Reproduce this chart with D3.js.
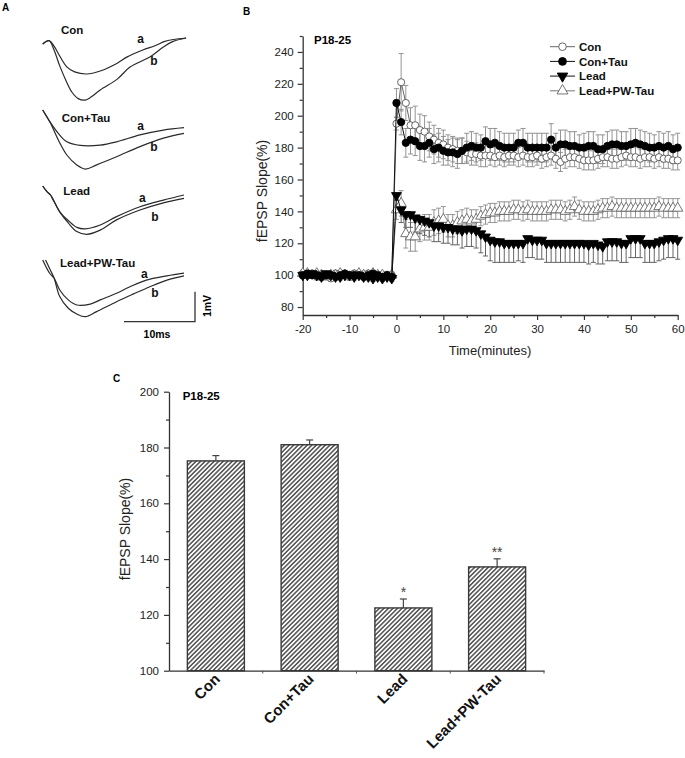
<!DOCTYPE html>
<html><head><meta charset="utf-8">
<script src="https://cdn.jsdelivr.net/npm/d3@7"></script>
<style>body{margin:0;background:#fff}svg{display:block}</style>
</head><body><svg id="c" width="685" height="758"></svg>
<script>
// ---------- DATA ----------
// Panel A: field potential traces, [time ms, amplitude mV]
const conTraceA = [[0,-0.2],[0.9,-0.09],[1.6,-0.27],[2.4,-0.6],[3.4,-0.96],[4.5,-1.13],[6.2,-1.2],[8.1,-1.1],[10.5,-0.84],[11.9,-0.63],[14.1,-0.4],[15.9,-0.25],[17.1,-0.12],[18.4,-0.05],[20.2,0]];
const conTraceB = [[0,-0.2],[0.9,-0.09],[1.6,-0.4],[2.4,-0.93],[3.3,-1.43],[4.1,-1.8],[5.0,-2.02],[6.0,-2.07],[6.8,-1.97],[8.1,-1.73],[10.5,-1.37],[12.3,-0.97],[15.2,-0.62],[17.0,-0.3],[18.3,-0.12],[20.2,0]];
const conTauTraceA = [[0,0],[1.0,-0.39],[2.2,-0.78],[3.4,-1.06],[5.3,-1.18],[8.1,-1.17],[10.4,-1.06],[13.7,-0.83],[17.0,-0.67],[19.9,-0.59]];
const conTauTraceB = [[0,0],[1.0,-0.39],[2.2,-1.0],[3.4,-1.5],[4.8,-1.83],[6.0,-1.97],[7.6,-1.83],[10.4,-1.56],[13.7,-1.22],[17.0,-0.94],[19.9,-0.78]];
const leadTraceA = [[0,0],[0.6,-0.19],[1.1,-0.3],[1.5,-0.47],[2.4,-0.86],[3.6,-1.15],[4.8,-1.38],[6.0,-1.43],[8.1,-1.3],[10.4,-1.02],[13.7,-0.69],[17.0,-0.47],[19.9,-0.3]];
const leadTraceB = [[0,0],[0.6,-0.19],[1.1,-0.3],[1.5,-0.47],[2.4,-0.86],[3.6,-1.23],[4.8,-1.52],[6.2,-1.61],[8.1,-1.47],[10.4,-1.13],[13.7,-0.8],[17.0,-0.56],[19.9,-0.41]];
const leadPwTraceA = [[0,0],[1.0,-0.45],[1.6,-0.6],[2.4,-1.0],[3.6,-1.33],[4.8,-1.5],[6.7,-1.47],[8.1,-1.33],[10.4,-1.11],[12.3,-0.89],[14.6,-0.67],[17.5,-0.53],[19.9,-0.44]];
const leadPwTraceB = [[0.4,0],[1.0,-0.3],[1.6,-0.6],[2.4,-1.22],[3.6,-1.61],[4.8,-1.8],[6.0,-1.89],[7.6,-1.72],[10.4,-1.39],[12.8,-1.13],[15.1,-0.89],[17.5,-0.67],[19.9,-0.53]];
const traceNames = ["Con","Con+Tau","Lead","Lead+PW-Tau"];

// Panel B: time course (minutes) and fEPSP slope (%)
const timeBase = [-20,-19,-18,-17,-16,-15,-14,-13,-12,-11,-10,-9,-8,-7,-6,-5,-4,-3,-2,-1];
const timePost = [0,1,2,3,4,5,6,7,8,9,10,11,12,13,14,15,16,17,18,19,20,21,22,23,24,25,26,27,28,29,30,31,32,33,34,35,36,37,38,39,40,41,42,43,44,45,46,47,48,49,50,51,52,53,54,55,56,57,58,59,60];
const xTickLabels = [-20,-10,0,10,20,30,40,50,60];
const yTickLabelsB = [80,100,120,140,160,180,200,220,240];
const seriesNames = ["Con","Con+Tau","Lead","Lead+PW-Tau"];
const conBase    = [101,100,101,99,100,100,98,101,100,100,99,101,100,100,101,100,99,100,100,100];
const conTauBase = [100,101,100,100,99,100,100,99,100,101,100,100,100,99,100,101,100,99,100,99];
const leadBase   = [100,100,101,100,99,101,100,99,99,100,100,99,100,99,99,98,99,98,99,98];
const leadPwBase = [101,101,100,101,100,99,100,100,101,100,99,100,101,100,100,101,100,100,99,100];
const conPost    = [195,221,208,194,194,191,190,187,185,183,182,180,179,178,178,177,176,176,175,175,175,174,175,174,175,175,174,175,174,174,175,173,174,175,173,171,173,174,174,173,172,172,172,173,174,174,173,173,174,175,174,174,173,174,174,173,174,173,173,172,172];
const conTauPost = [208,196,183,185,184,181,181,183,179,180,178,177,177,176,178,180,181,180,180,184,182,183,181,180,180,180,183,183,180,180,180,180,180,185,180,182,182,181,181,180,180,181,181,179,179,181,182,182,181,181,182,183,182,181,180,180,181,180,181,179,180];
const leadPost   = [150,141,138,138,136,135,134,133,131,131,130,130,129,129,128,129,129,128,126,124,122,121,121,120,120,120,120,120,123,122,122,122,120,120,120,120,120,120,120,120,120,119,120,119,118,121,121,121,120,120,123,123,123,120,120,120,121,122,123,123,122];
const leadPwPost = [141,145,126,124,124,129,130,130,133,134,135,131,131,133,134,135,134,135,137,138,139,139,140,140,140,141,141,140,141,140,140,140,140,141,141,141,140,141,143,141,140,140,140,141,142,142,143,142,142,142,142,142,142,142,142,142,143,142,142,142,142];
const errBase    = [2,2,2,2,2,2,2,2,2,2,2,2,2,2,2,2,2,2,2,2];
const conErrPost    = [4,18,11,11,12,10,10,9,9,9,9,8,8,8,8,7,7,7,7,7,6,6,6,6,6,6,6,6,6,6,6,6,6,6,6,6,6,6,6,6,6,6,6,6,6,6,6,6,6,6,6,6,6,6,6,6,6,6,6,6,6];
const conTauErrPost = [9,8,9,9,9,9,10,9,9,9,9,8,9,9,8,9,9,9,8,9,10,9,9,9,9,9,8,9,9,9,9,9,9,10,9,9,9,9,9,8,9,9,9,9,9,9,9,9,9,9,10,9,9,9,9,8,9,9,9,9,9];
const leadErrPost   = [3,8,8,8,9,9,9,9,10,10,10,10,10,10,11,11,11,11,12,12,13,13,13,12,12,12,11,12,12,11,12,12,12,12,12,12,12,12,12,12,12,12,12,12,11,12,12,12,12,12,12,12,12,12,12,12,12,12,12,12,12];
const leadPwErrPost = [6,8,9,9,9,8,8,8,8,8,8,7,7,7,7,7,7,6,6,6,6,6,6,6,6,6,6,6,6,6,6,6,6,6,6,6,6,6,6,6,6,6,6,6,6,6,6,6,6,6,6,6,6,6,6,6,6,6,6,6,6];

// Panel C: mean fEPSP slope (%) and SEM
const barCategories = ["Con","Con+Tau","Lead","Lead+PW-Tau"];
const barValues = [175.2,181.0,122.5,137.2];
const barErrors = [1.9,1.7,3.2,2.9];
const barMarks = ["","","*","**"];
const yTickLabelsC = [100,120,140,160,180,200];

// ---------- DRAWING ----------
const FONT = '"Liberation Sans", Arial, Helvetica, sans-serif';
const fmt = d => String(d);
const svg = d3.select("#c").attr("font-family", FONT);
svg.append("rect").attr("width",685).attr("height",758).attr("fill","#fff");

// ===== Panel A =====
const gA = svg.append("g");
gA.append("text").attr("x",2).attr("y",11).attr("font-size",10).attr("font-weight","bold").text("A");
const xA = d3.scaleLinear().domain([0,10]).range([42.7,113.7]);
const groupsA = [
  {name:traceNames[0], a:conTraceA, b:conTraceB, y0:38, nx:61, ny:33.5, ap:[140.7,42.5], bp:[154,65]},
  {name:traceNames[1], a:conTauTraceA, b:conTauTraceB, y0:110, nx:61.7, ny:121.5, ap:[140.7,130], bp:[154,151]},
  {name:traceNames[2], a:leadTraceA, b:leadTraceB, y0:186, nx:63.3, ny:195, ap:[142.3,201.5], bp:[155,221]},
  {name:traceNames[3], a:leadPwTraceA, b:leadPwTraceB, y0:260, nx:60, ny:267, ap:[144.3,277.5], bp:[155,297]}
];
groupsA.forEach(g => {
  const yA = d3.scaleLinear().domain([0,-1]).range([g.y0, g.y0+30]);
  const line = d3.line().x(d=>xA(d[0])).y(d=>yA(d[1])).curve(d3.curveCatmullRom.alpha(0.5));
  [g.a, g.b].forEach(tr => gA.append("path").attr("d", line(tr)).attr("fill","none").attr("stroke","#2a2a2a").attr("stroke-width",1.2));
  gA.append("text").attr("x",g.nx).attr("y",g.ny).attr("font-size",11.5).attr("font-weight","bold").attr("fill","#111").text(g.name);
  gA.append("text").attr("x",g.ap[0]).attr("y",g.ap[1]).attr("text-anchor","middle").attr("font-size",12).attr("font-weight","bold").attr("fill","#111").text("a");
  gA.append("text").attr("x",g.bp[0]).attr("y",g.bp[1]).attr("text-anchor","middle").attr("font-size",12).attr("font-weight","bold").attr("fill","#111").text("b");
});
// scale bar: 10 ms x 1 mV
const ySB = d3.scaleLinear().domain([0,1]).range([321.7,291.7]);
const xSB = d3.scaleLinear().domain([0,10]).range([124,195]);
gA.append("path").attr("d", `M${xSB(0)},${ySB(0)}H${xSB(10)}V${ySB(1)}`).attr("fill","none").attr("stroke","#333").attr("stroke-width",1.3);
gA.append("text").attr("x",157).attr("y",338).attr("text-anchor","middle").attr("font-size",10.5).attr("font-weight","bold").text("10ms");
gA.append("text").attr("transform","translate(211,306) rotate(-90)").attr("text-anchor","middle").attr("font-size",10.5).attr("font-weight","bold").text("1mV");

// ===== Panel B =====
const gB = svg.append("g");
gB.append("text").attr("x",243).attr("y",15).attr("font-size",10).attr("font-weight","bold").text("B");
const xB = d3.scaleLinear().domain([-20,60]).range([302.7,677.7]);
const yB = d3.scaleLinear().domain([75,250]).range([315,36]);

function styleAxis(g, fs){
  g.select(".domain").attr("stroke","#333").attr("stroke-width",1.3);
  g.selectAll(".tick line").attr("stroke","#333").attr("stroke-width",1.2);
  g.selectAll("text").attr("font-size",fs).attr("fill","#222").attr("font-family",FONT);
}
const bx = gB.append("g").attr("transform","translate(0,315)")
  .call(d3.axisBottom(xB).tickValues(xTickLabels).tickFormat(fmt).tickSize(5).tickSizeOuter(0).tickPadding(5));
styleAxis(bx, 11.5);
const bxm = gB.append("g").attr("transform","translate(0,315)")
  .call(d3.axisBottom(xB).tickValues([-15,-5,5,15,25,35,45,55]).tickSize(3).tickSizeOuter(0).tickFormat(""));
styleAxis(bxm, 11); bxm.select(".domain").remove();
const by = gB.append("g").attr("transform","translate(302.7,0)")
  .call(d3.axisLeft(yB).tickValues(yTickLabelsB).tickFormat(fmt).tickSize(5).tickSizeOuter(0).tickPadding(4));
styleAxis(by, 11.5);
const bym = gB.append("g").attr("transform","translate(302.7,0)")
  .call(d3.axisLeft(yB).tickValues([90,110,130,150,170,190,210,230,250]).tickSize(3).tickSizeOuter(0).tickFormat(""));
styleAxis(bym, 11); bym.select(".domain").remove();
gB.append("text").attr("x",490).attr("y",355).attr("text-anchor","middle").attr("font-size",13).attr("fill","#222").text("Time(minutes)");
gB.append("text").attr("transform","translate(267,191) rotate(-90)").attr("text-anchor","middle").attr("font-size",14).attr("fill","#222").text("fEPSP Slope(%)");
gB.append("text").attr("x",314).attr("y",44).attr("font-size",11.5).attr("font-weight","bold").text("P18-25");

const timeAll = timeBase.concat(timePost);
const seriesB = [
  {name:seriesNames[0], v:conBase.concat(conPost), e:errBase.concat(conErrPost), sym:d3.symbolCircle, size:40, fill:"#fff", stroke:"#555", line:"#666", err:"#8a8a8a", rot:0, both:true},
  {name:seriesNames[1], v:conTauBase.concat(conTauPost), e:errBase.concat(conTauErrPost), sym:d3.symbolCircle, size:42, fill:"#000", stroke:"#000", line:"#111", err:"#888", rot:0, both:true},
  {name:seriesNames[2], v:leadBase.concat(leadPost), e:errBase.concat(leadErrPost), sym:d3.symbolTriangle, size:42, fill:"#000", stroke:"#000", line:"#111", err:"#555", rot:180, both:false},
  {name:seriesNames[3], v:leadPwBase.concat(leadPwPost), e:errBase.concat(leadPwErrPost), sym:d3.symbolTriangle, size:46, fill:"#fff", stroke:"#666", line:"#777", err:"#8a8a8a", rot:0, both:true}
];
seriesB.forEach(s => { s.pts = timeAll.map((t,i)=>({t, v:s.v[i], e:s.e[i]})).filter(d=>d.v!=null); });
// error bars
const drawOrder = [0,3,1,2];
drawOrder.forEach(k => {
  const s = seriesB[k];
  const g = gB.append("g").attr("stroke", s.err).attr("stroke-width",0.9);
  s.pts.forEach(d => {
    const x = xB(d.t), yTop = s.both ? yB(d.v + d.e) : yB(d.v), yBot = yB(d.v - d.e);
    g.append("line").attr("x1",x).attr("x2",x).attr("y1",yTop).attr("y2",yBot);
    if (s.both) g.append("line").attr("x1",x-2.5).attr("x2",x+2.5).attr("y1",yTop).attr("y2",yTop);
    g.append("line").attr("x1",x-2.5).attr("x2",x+2.5).attr("y1",yBot).attr("y2",yBot);
  });
});
drawOrder.forEach(k => {
  const s = seriesB[k];
  const line = d3.line().x(d=>xB(d.t)).y(d=>yB(d.v));
  gB.append("path").attr("d", line(s.pts)).attr("fill","none").attr("stroke", s.line).attr("stroke-width",1);
  gB.append("g").selectAll("path").data(s.pts).join("path")
    .attr("d", d3.symbol().type(s.sym).size(s.size))
    .attr("transform", d => `translate(${xB(d.t)},${yB(d.v)}) rotate(${s.rot})`)
    .attr("fill", s.fill).attr("stroke", s.stroke).attr("stroke-width",0.9);
});
// legend
const lg = gB.append("g");
seriesB.forEach((s,i) => {
  const y = 46.7 + i*14.7;
  lg.append("line").attr("x1",550).attr("x2",575).attr("y1",y).attr("y2",y).attr("stroke", s.line).attr("stroke-width",1);
  lg.append("path").attr("d", d3.symbol().type(s.sym).size(s.size+6)).attr("transform",`translate(562.5,${y}) rotate(${s.rot})`)
    .attr("fill", s.fill).attr("stroke", s.stroke).attr("stroke-width",0.9);
  lg.append("text").attr("x",579).attr("y",y+4.2).attr("font-size",11.5).attr("font-weight","bold").attr("fill","#111").text(s.name);
});

// ===== Panel C =====
const gC = svg.append("g");
gC.append("text").attr("x",113).attr("y",382).attr("font-size",10).attr("font-weight","bold").text("C");
const defs = svg.append("defs");
const pat = defs.append("pattern").attr("id","hatch").attr("patternUnits","userSpaceOnUse")
  .attr("width",3.2).attr("height",3.2).attr("patternTransform","rotate(45)");
pat.append("rect").attr("width",3.2).attr("height",3.2).attr("fill","#fff");
pat.append("line").attr("x1",0.8).attr("x2",0.8).attr("y1",0).attr("y2",3.2).attr("stroke","#2b2b2b").attr("stroke-width",1.25);

const xC = d3.scaleBand().domain(barCategories).range([169,544]).paddingInner(0.392).paddingOuter(0.196);
const yC = d3.scaleLinear().domain([100,200]).range([670.7,391.7]);
gC.selectAll("rect.bar").data(barCategories).join("rect").attr("class","bar")
  .attr("x", d=>xC(d)).attr("width", xC.bandwidth())
  .attr("y", (d,i)=>yC(barValues[i])).attr("height", (d,i)=>yC(100)-yC(barValues[i]))
  .attr("fill","url(#hatch)").attr("stroke","#3a3a3a").attr("stroke-width",1.4);
barCategories.forEach((c,i) => {
  const cx = xC(c) + xC.bandwidth()/2, yt = yC(barValues[i]+barErrors[i]);
  gC.append("line").attr("x1",cx).attr("x2",cx).attr("y1",yC(barValues[i])).attr("y2",yt).attr("stroke","#444").attr("stroke-width",1.2);
  gC.append("line").attr("x1",cx-3.5).attr("x2",cx+3.5).attr("y1",yt).attr("y2",yt).attr("stroke","#444").attr("stroke-width",1.2);
  if (barMarks[i]) gC.append("text").attr("x",cx).attr("y",yt-1.5).attr("text-anchor","middle").attr("font-size",14).attr("fill","#444").text(barMarks[i]);
});
const cy = gC.append("g").attr("transform","translate(169,0)")
  .call(d3.axisLeft(yC).tickValues(yTickLabelsC).tickFormat(fmt).tickSize(5).tickSizeOuter(0).tickPadding(5));
styleAxis(cy, 11.5);
const cym = gC.append("g").attr("transform","translate(169,0)")
  .call(d3.axisLeft(yC).tickValues([110,130,150,170,190]).tickSize(3).tickSizeOuter(0).tickFormat(""));
styleAxis(cym, 11); cym.select(".domain").remove();
// x axis line with small ticks between categories
const step = xC.step();
const cxAxis = gC.append("g").attr("transform","translate(0,670.7)")
  .call(d3.axisBottom(xC).tickSize(0).tickSizeOuter(0).tickFormat(""));
styleAxis(cxAxis, 11);
barCategories.forEach((c,i) => {
  const bx2 = xC(c) + xC.bandwidth()/2 + step/2;
  gC.append("line").attr("x1",bx2).attr("x2",bx2).attr("y1",670.7).attr("y2",673.5).attr("stroke","#555").attr("stroke-width",1);
});
barCategories.forEach(c => {
  const cx = xC(c) + xC.bandwidth()/2;
  gC.append("text").attr("transform",`translate(${cx+5},680) rotate(-45)`).attr("text-anchor","end")
    .attr("font-size",15).attr("font-weight","bold").attr("fill","#111").text(c);
});
gC.append("text").attr("transform","translate(130,529) rotate(-90)").attr("text-anchor","middle").attr("font-size",14).attr("fill","#222").text("fEPSP Slope(%)");
gC.append("text").attr("x",182.7).attr("y",400).attr("font-size",11.5).attr("font-weight","bold").text("P18-25");
</script></body></html>
